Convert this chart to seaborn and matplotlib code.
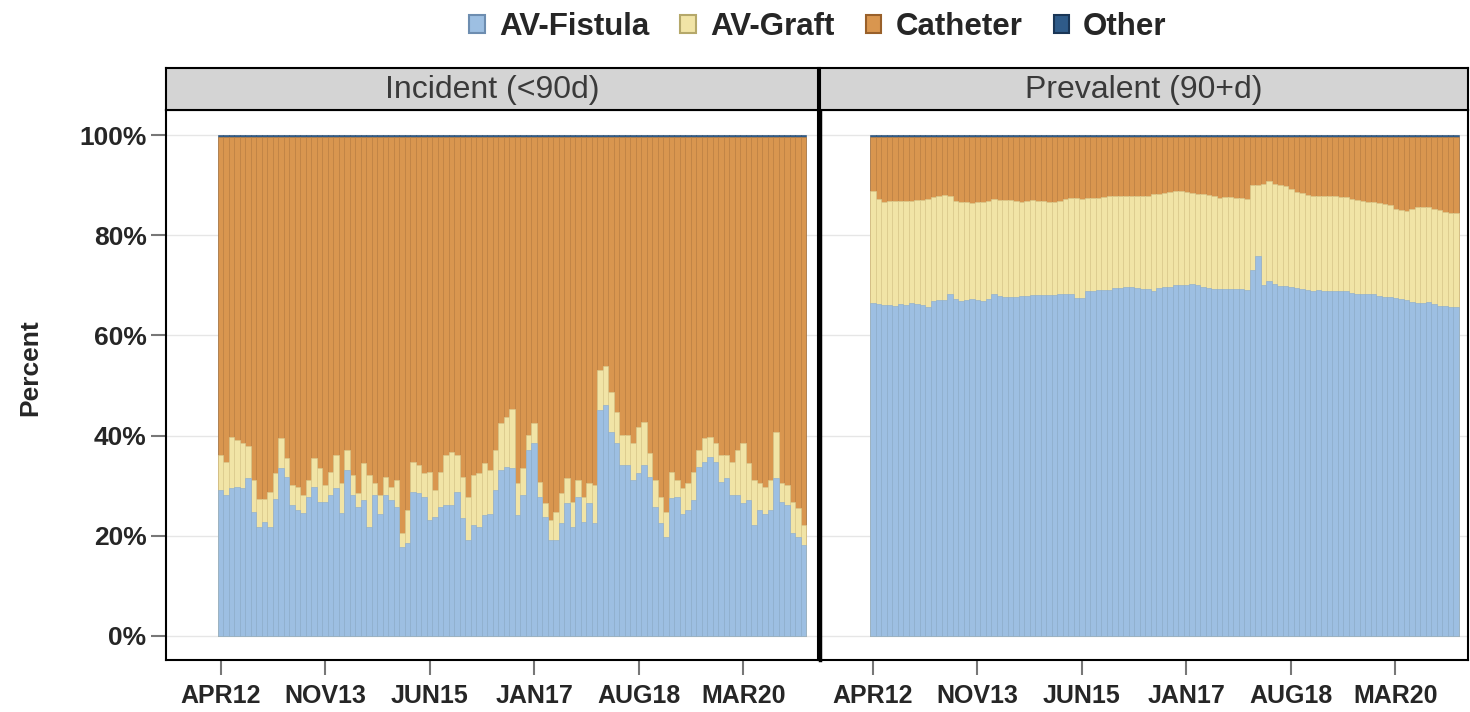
import numpy as np
import pandas as pd
import matplotlib.pyplot as plt
import seaborn as sns
from matplotlib.patches import Patch

sns.set_style("white")
plt.rcParams['font.family'] = ['Liberation Sans', 'DejaVu Sans']

# monthly bars, Apr 2012 .. Feb 2021
months = pd.period_range("2012-04", "2021-02", freq="M")
tick_months = ["2012-04", "2013-11", "2015-06", "2017-01", "2018-08", "2020-03"]
tick_labels = ["APR12", "NOV13", "JUN15", "JAN17", "AUG18", "MAR20"]

panels = ["Incident (<90d)", "Prevalent (90+d)"]
categories = ["AV-Fistula", "AV-Graft", "Catheter", "Other"]
colors = ["#9dbfe2", "#f1e4a6", "#d9964f", "#2f5b89"]
edges = ["#88aacd", "#d8ca8e", "#c4823f", "#24496f"]

# Incident: AV-Fistula share and top of AV-Graft (fistula + graft), percent
fistula_inc = [29.1, 28.1, 29.5, 29.8, 29.5, 31.5, 24.8, 21.8, 22.8, 21.8,
               27.3, 33.5, 31.8, 26.1, 25.1, 24.6, 27.8, 29.8, 26.8, 26.8,
               28.1, 29.5, 24.6, 33.1, 28.1, 25.8, 27.1, 21.8, 28.1, 24.4,
               28.1, 27.1, 25.8, 17.8, 18.5, 28.8, 28.5, 27.8, 23.2, 23.8,
               25.8, 26.1, 26.1, 28.8, 23.5, 19.2, 22.2, 21.8, 24.2, 24.4,
               29.1, 33.1, 33.8, 33.5, 24.2, 28.1, 37.1, 38.5, 27.8, 23.8,
               19.2, 19.2, 22.6, 26.5, 21.8, 27.8, 22.8, 26.5, 22.6, 45.1,
               46.1, 40.8, 38.5, 34.1, 34.1, 31.1, 32.5, 34.1, 31.8, 25.8,
               22.6, 19.8, 27.5, 27.8, 24.4, 25.1, 27.1, 33.8, 34.8, 35.8,
               34.8, 30.8, 31.5, 28.1, 28.1, 26.5, 27.1, 22.2, 25.1, 24.4,
               25.1, 31.5, 26.8, 26.1, 20.5, 19.8, 18.2]
graft_top_inc = [36.1, 34.8, 39.8, 39.1, 38.5, 37.9, 31.1, 27.3, 27.3, 28.8,
                 32.5, 39.6, 35.5, 30.1, 29.8, 28.1, 31.1, 35.5, 33.5, 30.1,
                 32.8, 36.1, 30.5, 37.1, 32.1, 28.5, 34.5, 32.1, 30.5, 28.1,
                 31.8, 29.8, 31.1, 20.5, 25.1, 34.8, 34.1, 32.5, 32.8, 29.1,
                 32.8, 36.1, 36.8, 36.1, 31.8, 27.8, 32.1, 32.5, 34.5, 33.1,
                 37.1, 42.5, 43.8, 45.4, 30.5, 33.5, 40.1, 42.5, 30.8, 26.5,
                 23.2, 24.8, 28.5, 31.5, 26.8, 31.1, 27.8, 30.5, 30.1, 53.1,
                 53.8, 48.8, 44.8, 40.1, 40.1, 38.5, 41.8, 42.8, 36.5, 31.1,
                 27.8, 24.8, 32.8, 31.1, 29.5, 30.5, 32.8, 37.1, 39.5, 39.8,
                 38.5, 36.1, 36.1, 34.8, 37.1, 38.5, 34.5, 31.1, 30.5, 29.8,
                 31.1, 40.8, 30.5, 30.1, 26.8, 25.5, 22.2]

# Prevalent
fistula_prev = [66.4, 66.2, 66.0, 66.1, 65.9, 66.2, 66.0, 66.4, 66.2, 66.0,
                65.7, 66.8, 67.0, 67.1, 68.2, 67.3, 66.8, 67.0, 67.2, 67.1,
                66.9, 67.3, 68.3, 67.8, 67.6, 67.6, 67.7, 67.8, 67.9, 68.0,
                68.1, 68.0, 68.1, 68.0, 68.2, 68.3, 68.2, 67.5, 67.5, 68.8,
                68.9, 69.0, 69.0, 69.1, 69.5, 69.4, 69.6, 69.6, 69.5, 69.3,
                69.2, 68.9, 69.4, 69.7, 69.7, 70.0, 70.1, 70.0, 70.2, 70.0,
                69.7, 69.5, 69.3, 69.3, 69.3, 69.2, 69.3, 69.2, 69.1, 73.1,
                75.8, 70.1, 70.8, 70.2, 69.9, 69.8, 69.6, 69.5, 69.3, 69.0,
                68.9, 69.0, 68.9, 68.9, 68.9, 68.8, 68.8, 68.4, 68.3, 68.3,
                68.2, 68.2, 67.8, 67.7, 67.6, 67.5, 67.2, 67.0, 66.6, 66.4,
                66.5, 66.6, 66.3, 65.9, 65.8, 65.7, 65.6]
graft_top_prev = [88.9, 87.2, 86.7, 86.8, 86.9, 86.9, 86.8, 86.9, 87.0, 87.1,
                  87.3, 87.7, 87.9, 88.0, 87.9, 86.8, 86.6, 86.6, 86.5, 86.6,
                  86.7, 86.8, 87.3, 87.1, 87.0, 87.0, 86.9, 86.6, 86.9, 87.0,
                  86.9, 86.9, 86.6, 86.6, 86.8, 87.2, 87.4, 87.4, 87.3, 87.4,
                  87.5, 87.4, 87.7, 87.8, 87.8, 87.8, 87.8, 87.8, 87.9, 87.8,
                  87.9, 88.2, 88.3, 88.4, 88.7, 88.9, 88.9, 88.7, 88.5, 88.3,
                  88.3, 88.0, 87.8, 87.5, 87.6, 87.6, 87.5, 87.4, 87.2, 90.0,
                  90.0, 90.2, 90.8, 90.3, 90.0, 89.8, 89.2, 88.7, 88.5, 88.1,
                  87.9, 87.9, 87.8, 87.8, 87.8, 87.7, 87.6, 87.2, 87.0, 86.8,
                  86.7, 86.6, 86.5, 86.3, 86.0, 85.3, 85.0, 84.9, 85.2, 85.6,
                  85.6, 85.7, 85.2, 85.0, 84.6, 84.5, 84.4]

other_inc = [0.4] * len(months)
other_prev = [0.4] * len(months)


def draw_panel(ax, fistula, graft_top, other):
    fistula = np.array(fistula)
    graft = np.array(graft_top) - fistula
    other = np.array(other)
    catheter = 100 - other - fistula - graft
    tops = np.cumsum([fistula, graft, catheter, other], axis=0)
    x = np.arange(len(fistula))
    # tallest first so the shorter stacks sit on top
    for top, col, ec in zip(tops[::-1], colors[::-1], edges[::-1]):
        sns.barplot(x=x, y=top, color=col, saturation=1, width=1.0,
                    edgecolor=ec, linewidth=0.4, ax=ax)


fig = plt.figure(figsize=(14.7, 7.12), dpi=100)
W, H = 1470, 712
ax1 = fig.add_axes([166 / W, 52 / H, 652 / W, 550 / H])
ax2 = fig.add_axes([820 / W, 52 / H, 648 / W, 550 / H])

draw_panel(ax1, fistula_inc, graft_top_inc, other_inc)
draw_panel(ax2, fistula_prev, graft_top_prev, other_prev)

tick_pos = [months.get_loc(pd.Period(m, freq="M")) for m in tick_months]

for ax, title, xl in zip([ax1, ax2], panels, [(-9.95, 108.6), (-9.64, 108.2)]):
    ax.set_xlim(*xl)
    ax.set_ylim(-4.8, 105)
    ax.set_xticks(tick_pos)
    ax.set_xticklabels(tick_labels, fontsize=18, fontweight="bold")
    ax.set_xlabel("")
    ax.set_ylabel("")
    ax.set_yticks([0, 20, 40, 60, 80, 100])
    ax.grid(axis="y", color="#e6e6e6", linewidth=1)
    ax.set_axisbelow(True)
    ax.tick_params(axis="x", bottom=True, length=11, width=1.5,
                   color="#777777", pad=6)
    for s in ax.spines.values():
        s.set_color("black")
        s.set_linewidth(1.5)
    # header strip
    pos = ax.get_position()
    hx = fig.add_axes([pos.x0, 1 - 110 / H, pos.width, 42 / H])
    hx.set_facecolor("#d4d4d4")
    hx.set_xticks([])
    hx.set_yticks([])
    for s in hx.spines.values():
        s.set_color("black")
        s.set_linewidth(1.5)
    hx.text(0.5, 0.47, title, ha="center", va="center", fontsize=23,
            color="#3a3a3a", transform=hx.transAxes)

ax1.set_yticklabels(["0%", "20%", "40%", "60%", "80%", "100%"],
                    fontsize=19, fontweight="bold")
ax1.tick_params(axis="y", left=True, length=11, width=1.5, color="#777777", pad=3)
ax2.tick_params(axis="y", left=False, length=0, labelleft=False)
ax2.spines["left"].set_linewidth(2.5)

fig.text(30 / W, 1 - 368 / H, "Percent", rotation=90, ha="center",
         va="center", fontsize=19, fontweight="bold")

handles = [Patch(facecolor=c, edgecolor=e, linewidth=1.5, label=l)
           for c, e, l in zip(colors, ["#6d8db0", "#b5a86a", "#99602a", "#1a3656"],
                              categories)]
fig.legend(handles=handles, loc="center", bbox_to_anchor=(818 / W, 1 - 27 / H),
           ncol=4, frameon=False, handlelength=0.5, handleheight=0.5,
           handletextpad=0.45, columnspacing=1.0,
           prop={"size": 22.5, "weight": "bold"})

fig.savefig("out.png", dpi=100)
